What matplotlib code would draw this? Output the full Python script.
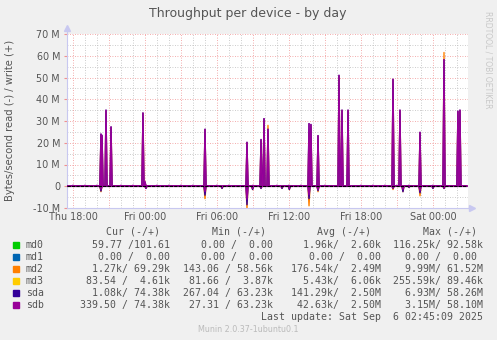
import matplotlib
matplotlib.use("Agg")
import matplotlib.pyplot as plt
import numpy as np

# ---------------- data (hours after Thu 18:00, values in MB/s) ----------------
event_hours = [2.33, 2.42, 2.75, 3.17, 5.83, 6.00, 6.08, 11.00, 12.42, 14.50, 14.97,
               15.67, 15.92, 16.25, 17.42, 18.03, 19.67, 19.83, 20.42, 22.17, 22.42,
               22.92, 26.67, 27.25, 27.50, 28.00, 28.92, 30.00, 30.92, 32.08, 32.25]
sdb_write = [24.0, 23.4, 35.0, 27.3, 33.7, 2.0, 0.0, 26.2, 0.0, 20.2, 0.0,
             21.5, 31.1, 26.2, 0.0, 0.0, 28.8, 28.4, 23.3, 51.0, 35.0,
             35.0, 49.2, 35.0, 0.0, 0.0, 24.8, 0.0, 58.2, 34.5, 35.0]
sda_write = [24.0, 23.4, 35.0, 27.3, 33.7, 2.0, 0.0, 26.2, 0.0, 20.2, 0.0,
             21.5, 31.1, 26.2, 0.0, 0.0, 28.8, 28.4, 23.3, 51.0, 35.0,
             35.0, 49.2, 35.0, 0.0, 0.0, 24.8, 0.0, 58.2, 34.5, 35.0]
md2_write = [23.5, 23.0, 34.5, 27.0, 33.5, 2.0, 0.0, 26.0, 0.0, 20.0, 0.0,
             21.0, 30.8, 28.0, 0.0, 0.0, 24.4, 28.0, 23.0, 50.5, 34.8,
             34.8, 49.0, 34.8, 0.0, 0.0, 24.5, 0.0, 61.5, 34.2, 34.8]
md2_read = [2.5, 0, 0, 0, 0, 0, 1.0, 5.7, 1.0, 10.3, 1.5, 1.0, 0, 0, 1.0, 1.5,
            9.0, 0, 2.5, 0, 0, 0, 1.5, 0, 2.5, 0.5, 4.4, 1.0, 1.0, 0, 0]
sda_read = [2.2, 0, 0, 0, 0, 0, 1.0, 4.1, 1.0, 8.5, 1.5, 1.0, 0, 0, 1.0, 1.5,
            5.7, 0, 2.0, 0, 0, 0, 1.0, 0, 2.5, 0.5, 3.0, 1.0, 1.0, 0, 0]
sdb_read = [1.5, 0, 0, 0, 0, 0, 0.8, 2.5, 0.5, 6.0, 1.0, 0.5, 0, 0, 0.5, 1.0,
            4.0, 0, 1.5, 0, 0, 0, 0.8, 0, 1.5, 0.3, 2.0, 0.5, 0.8, 0, 0]
blip_hours = [0, 1, 2, 4, 5, 7, 8, 9, 10, 12, 13, 15, 17, 18, 19, 21, 23, 24, 25,
              26, 27, 28, 29, 30, 31]
blip_values = [0.4] * len(blip_hours)

x_tick_hours = [0, 6, 12, 18, 24, 30]
x_tick_labels = ["Thu 18:00", "Fri 00:00", "Fri 06:00", "Fri 12:00", "Fri 18:00", "Sat 00:00"]
y_ticks = [-10, 0, 10, 20, 30, 40, 50, 60, 70]
y_tick_labels = ["-10 M", "0", "10 M", "20 M", "30 M", "40 M", "50 M", "60 M", "70 M"]

devices = ["md0", "md1", "md2", "md3", "sda", "sdb"]
colors = ["#00CC00", "#0066B3", "#FF8000", "#FFCC00", "#330099", "#990099"]
cur_vals = ["59.77 /101.61", "0.00 /  0.00", "1.27k/ 69.29k", "83.54 /  4.61k", "1.08k/ 74.38k", "339.50 / 74.38k"]
min_vals = ["0.00 /  0.00", "0.00 /  0.00", "143.06 / 58.56k", "81.66 /  3.87k", "267.04 / 63.23k", "27.31 / 63.23k"]
avg_vals = ["1.96k/  2.60k", "0.00 /  0.00", "176.54k/  2.49M", "5.43k/  6.06k", "141.29k/  2.50M", "42.63k/  2.50M"]
max_vals = ["116.25k/ 92.58k", "0.00 /  0.00 ", "9.99M/ 61.52M", "255.59k/ 89.46k", "6.93M/ 58.26M", "3.15M/ 58.10M"]

X_MIN, X_MAX = -0.5, 32.92
STEP = 1.0 / 12.0  # 5-minute samples

# ---------------- figure ----------------
W, H = 497, 340
fig = plt.figure(figsize=(W / 100, H / 100), dpi=100, facecolor="#F0F0F0")
ax = fig.add_axes([67 / W, (H - 208) / H, 401 / W, 174 / H])
ax.set_facecolor("white")
ax.set_xlim(X_MIN, X_MAX)
ax.set_ylim(-10, 70)

# grid
for yv in np.arange(-10, 71, 5):
    major = (yv % 10 == 0)
    ax.axhline(yv, color="#F09090" if major else "#BBBBBB", lw=0.6,
               ls=(0, (1, 2)), zorder=1)
for hv in np.arange(0, 33, 1):
    major = (hv % 3 == 0)
    ax.axvline(hv, color="#F09090" if major else "#BBBBBB", lw=0.6,
               ls=(0, (1, 2)), zorder=1)


def build(hours, vals, sign=1.0):
    xs, ys = [X_MIN], [0.0]
    pairs = sorted(zip(hours, vals))
    for t, v in pairs:
        if v == 0:
            continue
        xs += [t - STEP, t, t + STEP]
        ys += [0.0, sign * v, 0.0]
    xs.append(X_MAX - 0.1)
    ys.append(0.0)
    return xs, ys

series_write = {"md2": md2_write, "sda": sda_write, "sdb": sdb_write}
series_read = {"md2": md2_read, "sda": sda_read, "sdb": sdb_read}
for name, col in zip(devices, colors):
    if name in series_write:
        xw, yw = build(event_hours, series_write[name], 1.0)
        ax.plot(xw, yw, color=col, lw=1.0, zorder=3)
        xr, yr = build(event_hours, series_read[name], -1.0)
        ax.plot(xr, yr, color=col, lw=1.0, zorder=3)

xb, yb = build(blip_hours, blip_values, 1.0)
ax.plot(xb, yb, color="#990099", lw=1.2, zorder=3)
ax.plot([X_MIN, X_MAX - 0.1], [0, 0], color="black", lw=0.8, ls=(0, (3, 1)), zorder=4)

# axes styling
for s in ["top", "right"]:
    ax.spines[s].set_visible(False)
ax.spines["left"].set_color("#C8C8F0")
ax.spines["bottom"].set_color("#C8C8F0")
ax.spines["left"].set_linewidth(0.8)
ax.spines["bottom"].set_linewidth(0.8)
ax.plot([0, 0], [1, 1.035], transform=ax.transAxes, color="#C8C8F0", lw=0.8, clip_on=False)
ax.plot([0], [1.035], transform=ax.transAxes, marker="^", color="#C8C8F0", ms=4, clip_on=False)
ax.plot([1, 1.01], [0, 0], transform=ax.transAxes, color="#C8C8F0", lw=0.8, clip_on=False)
ax.plot([1.01], [0], transform=ax.transAxes, marker=">", color="#C8C8F0", ms=4, clip_on=False)

ax.set_xticks(x_tick_hours)
ax.set_xticklabels(x_tick_labels, fontsize=6.9, color="#555555")
ax.set_yticks(y_ticks)
ax.set_yticklabels(y_tick_labels, fontsize=6.9, color="#555555")
ax.tick_params(axis="x", length=0, pad=3)
ax.tick_params(axis="y", length=2, color="#F09090", pad=3)

fig.text(248 / W, 1 - 13 / H, "Throughput per device - by day", ha="center", va="center",
         fontsize=9, color="#555555")
fig.text(10 / W, 1 - 120 / H, "Bytes/second read (-) / write (+)", rotation=90,
         ha="center", va="center", fontsize=7.2, color="#555555")
fig.text(488 / W, 1 - 60 / H, "RRDTOOL / TOBI OETIKER", rotation=270, ha="center",
         va="center", fontsize=5.5, color="#C8C8C8")

# legend table
mono = "DejaVu Sans Mono"
fs = 7.1
tc = "#555555"
hdr_y = 232
col_right = [170, 272.7, 380.7, 482.7]
hdr_right = [160, 265.7, 371, 477]
for xr, lab in zip(hdr_right, ["Cur (-/+)", "Min (-/+)", "Avg (-/+)", "Max (-/+)"]):
    fig.text(xr / W, 1 - hdr_y / H, lab, ha="right", va="center", family=mono, fontsize=fs, color=tc)
for i, (name, col) in enumerate(zip(devices, colors)):
    yy = 245 + 12 * i
    fig.patches.append(plt.Rectangle((13 / W, 1 - (yy + 3) / H), 6 / W, 6 / H,
                                     transform=fig.transFigure, color=col))
    fig.text(26 / W, 1 - yy / H, name, ha="left", va="center", family=mono, fontsize=fs, color=tc)
    for xr, vals in zip(col_right, [cur_vals, min_vals, avg_vals, max_vals]):
        fig.text(xr / W, 1 - yy / H, vals[i], ha="right", va="center", family=mono,
                 fontsize=fs, color=tc)
fig.text(482.7 / W, 1 - 316.7 / H, "Last update: Sat Sep  6 02:45:09 2025", ha="right",
         va="center", family=mono, fontsize=fs, color=tc)
fig.text(248 / W, 1 - 329 / H, "Munin 2.0.37-1ubuntu0.1", ha="center", va="center",
         fontsize=5.8, color="#BBBBBB")

fig.savefig("out.png", dpi=100, facecolor=fig.get_facecolor())
